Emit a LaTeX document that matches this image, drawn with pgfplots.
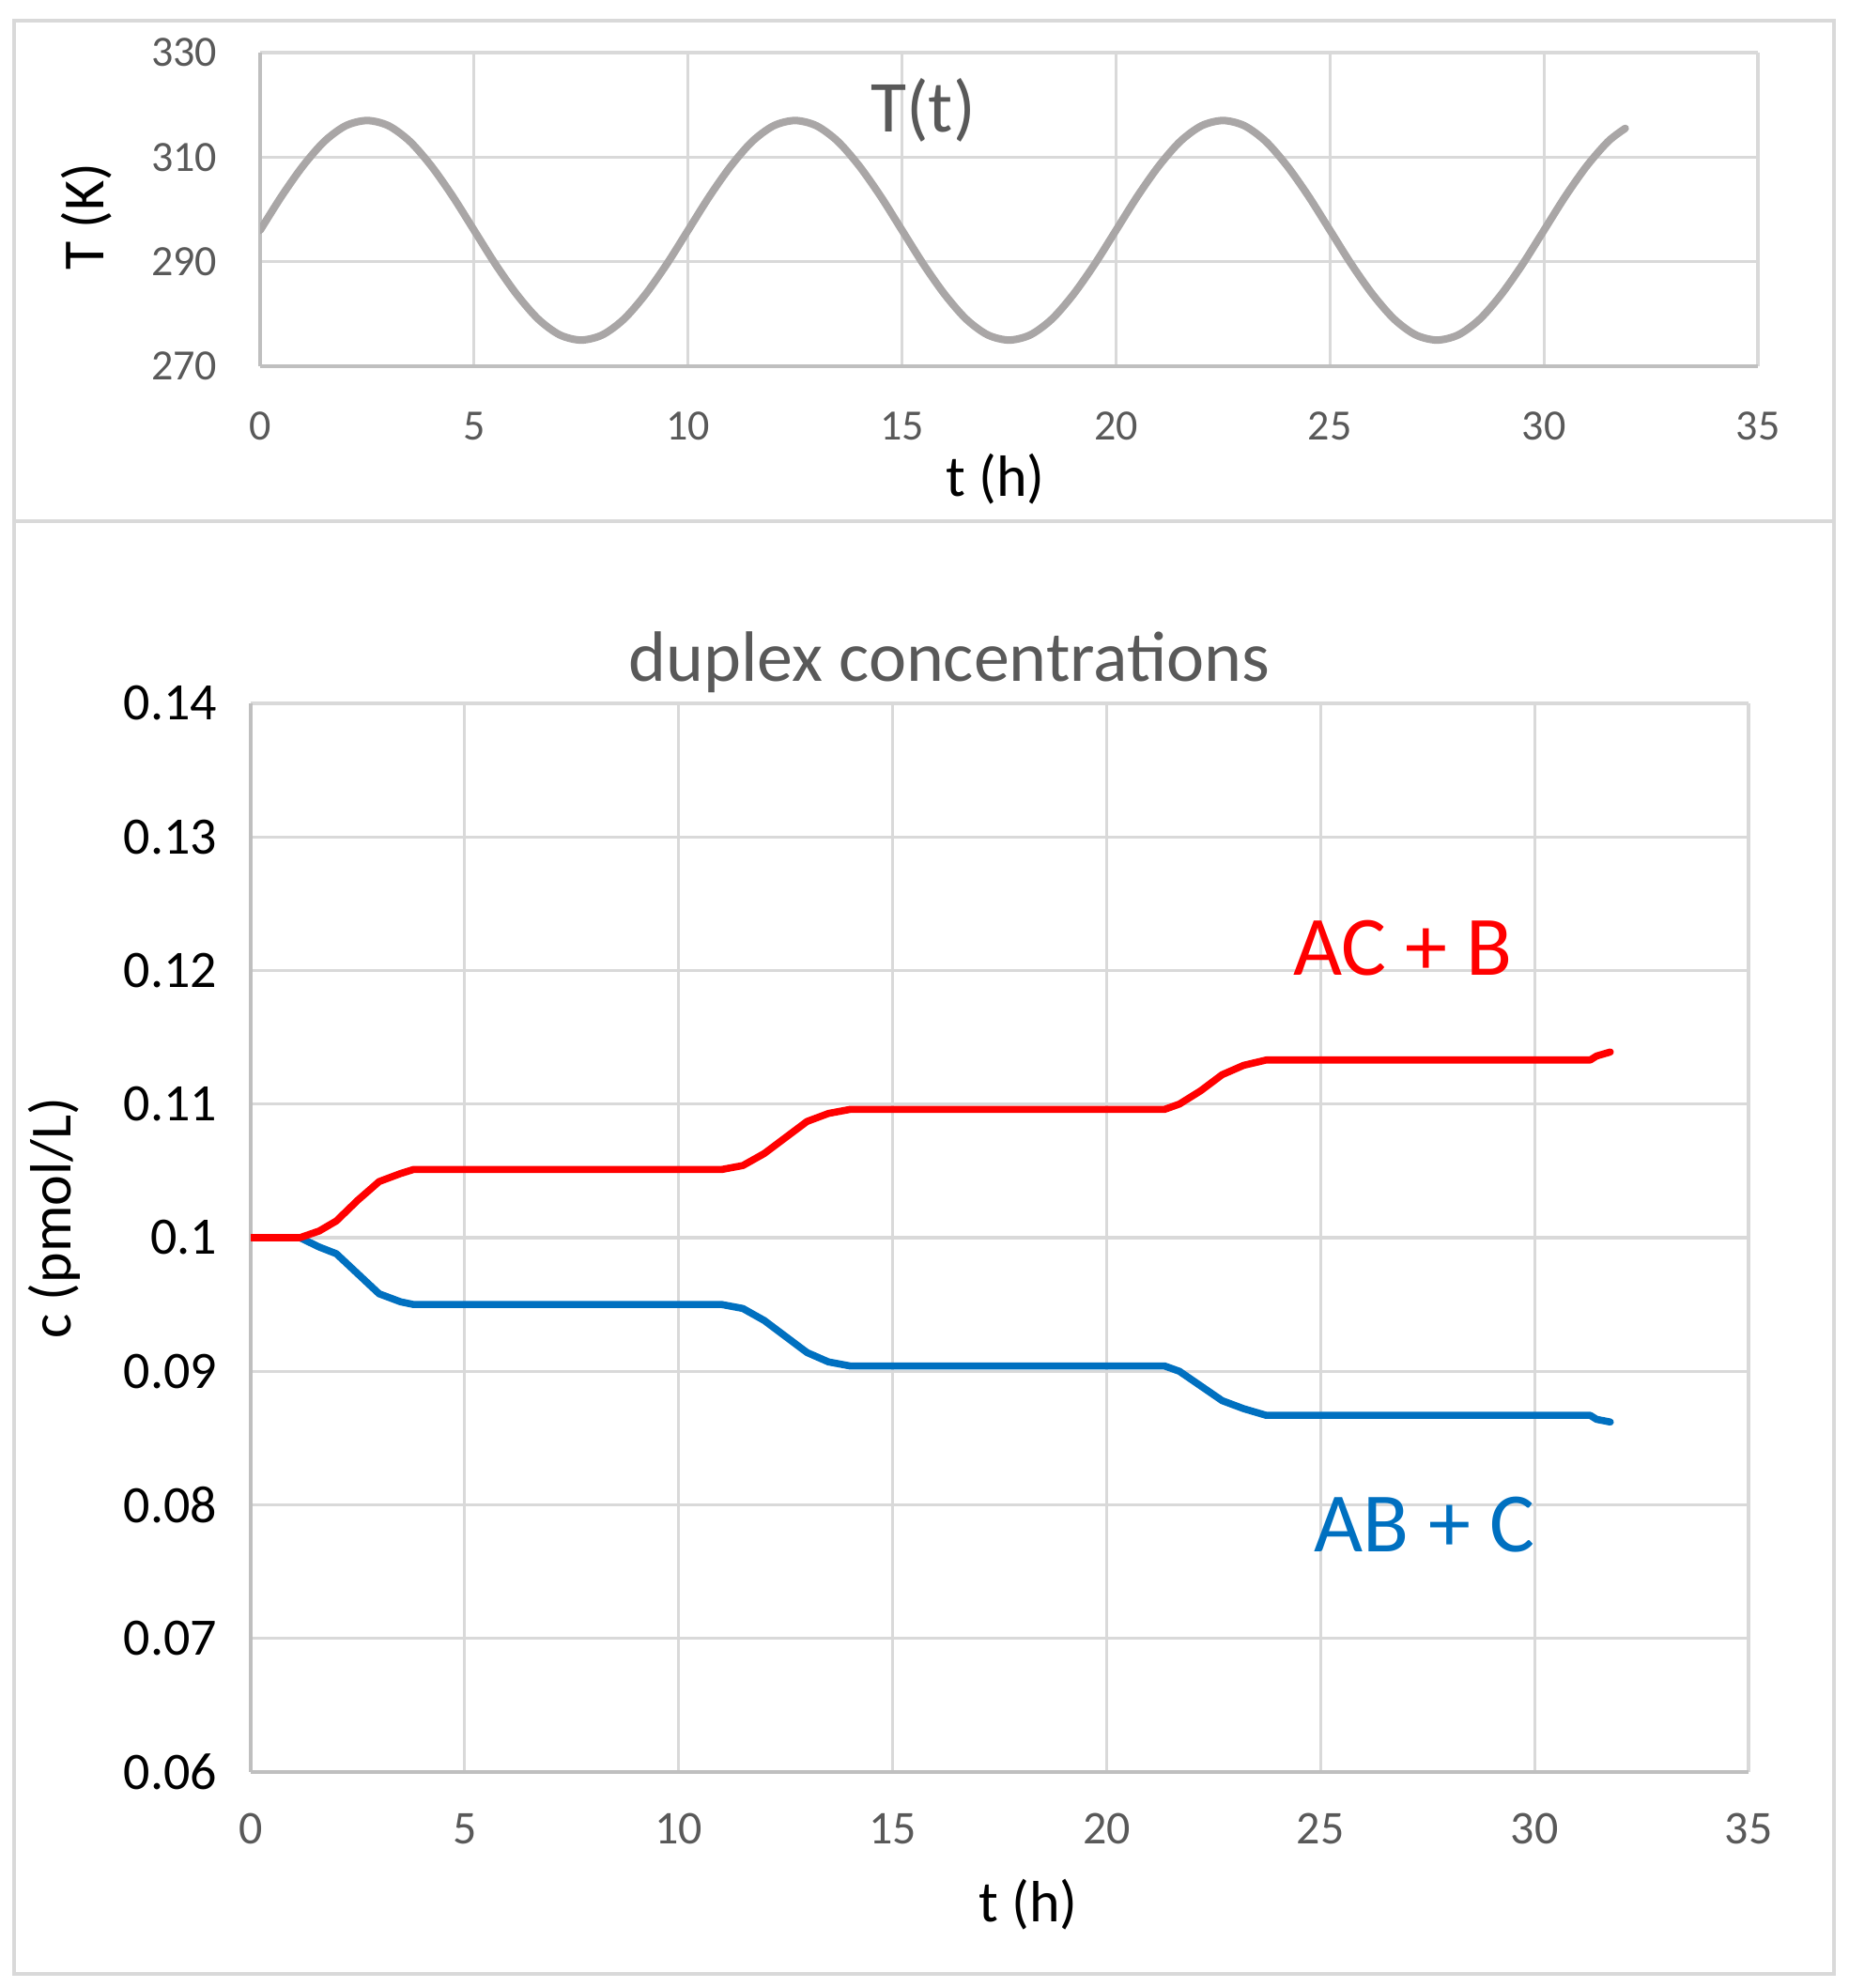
\documentclass[border=0pt]{standalone}
\usepackage{fontspec}
\setmainfont{Carlito}
\usepackage{pgfplots}
\pgfplotsset{compat=1.18}
\usepackage{pgfplotstable}

\definecolor{gridgray}{HTML}{D9D9D9}
\definecolor{axisgray}{HTML}{BFBFBF}
\definecolor{txtgray}{HTML}{595959}
\definecolor{curvegray}{HTML}{A9A6A6}
\definecolor{acred}{HTML}{FF0000}
\definecolor{abblue}{HTML}{0070C0}

% temperature profile T(t), K
\pgfplotstableread{
t T
0 296.0
0.5 302.5
1 308.3
1.5 313.0
2 316.0
2.5 317.0
3 316.0
3.5 313.0
4 308.3
4.5 302.5
5 296.0
5.5 289.5
6 283.7
6.5 279.0
7 276.0
7.5 275.0
8 276.0
8.5 279.0
9 283.7
9.5 289.5
10 296.0
10.5 302.5
11 308.3
11.5 313.0
12 316.0
12.5 317.0
13 316.0
13.5 313.0
14 308.3
14.5 302.5
15 296.0
15.5 289.5
16 283.7
16.5 279.0
17 276.0
17.5 275.0
18 276.0
18.5 279.0
19 283.7
19.5 289.5
20 296.0
20.5 302.5
21 308.3
21.5 313.0
22 316.0
22.5 317.0
23 316.0
23.5 313.0
24 308.3
24.5 302.5
25 296.0
25.5 289.5
26 283.7
26.5 279.0
27 276.0
27.5 275.0
28 276.0
28.5 279.0
29 283.7
29.5 289.5
30 296.0
30.5 302.5
31 308.3
31.5 313.0
31.9 315.5
}\temptable

% duplex AC + B
\pgfplotstableread{
t c
0 0.1000
1.15 0.1000
1.6 0.1005
2.0 0.10125
2.5 0.1028
3.0 0.1042
3.5 0.1048
3.8 0.1051
11.0 0.1051
11.5 0.1054
12.0 0.1063
12.5 0.1075
13.0 0.1087
13.5 0.1093
14.0 0.1096
21.35 0.1096
21.7 0.1100
22.2 0.1110
22.7 0.1122
23.2 0.1129
23.73 0.1133
31.3 0.1133
31.45 0.1136
31.77 0.1139
}\actable

% duplex AB + C
\pgfplotstableread{
t c
0 0.1000
1.15 0.1000
1.6 0.0993
2.0 0.0988
2.5 0.0973
3.0 0.0958
3.5 0.0952
3.8 0.0950
11.0 0.0950
11.5 0.0947
12.0 0.0938
12.5 0.0926
13.0 0.0914
13.5 0.0907
14.0 0.0904
21.35 0.0904
21.7 0.0900
22.2 0.0889
22.7 0.0878
23.2 0.0872
23.73 0.0867
31.3 0.0867
31.45 0.0864
31.77 0.0862
}\abtable

\pgfplotsset{
  excelstyle/.style={
    scale only axis,
    axis lines=left,
    axis line style={-, axisgray, line width=1.1pt},
    xmajorgrids, ymajorgrids,
    grid style={gridgray, line width=0.8pt},
    major tick length=0pt,
    xmin=0, xmax=35,
    xtick={0,5,...,35},
    /pgf/number format/assume math mode=true,
  }
}

\begin{document}
\begin{tikzpicture}
% page extent
\path (0,0) rectangle (492pt,529.25pt);
% panel frames
\draw[gridgray, line width=1pt] (3.75pt,390.5pt) rectangle (488.25pt,523.75pt);
\draw[gridgray, line width=1pt] (3.75pt,3.75pt) rectangle (488.25pt,390.5pt);

% temperature panel
\begin{axis}[excelstyle,
  at={(69.25pt,431.75pt)}, anchor=south west,
  width=398.75pt, height=83.5pt,
  ymin=270, ymax=330, ytick={270,290,310,330},
  xticklabel style={font=\fontsize{11.5}{12}\selectfont, text=txtgray, anchor=base, yshift=-19.75pt},
  yticklabel style={font=\fontsize{11.5}{12}\selectfont, text=txtgray, anchor=east, inner sep=0pt, xshift=-11.25pt},
]
\addplot[curvegray, line width=2pt, line cap=round, smooth] table[x=t, y=T] {\temptable};
\end{axis}

% concentration panel
\begin{axis}[excelstyle,
  at={(66.75pt,57.5pt)}, anchor=south west,
  width=398.75pt, height=284.5pt,
  ymin=0.06, ymax=0.14,
  ytick={0.06,0.07,0.08,0.09,0.10,0.11,0.12,0.13,0.14},
  yticklabels={0.06,0.07,0.08,0.09,0.1,0.11,0.12,0.13,0.14},
  xticklabel style={font=\fontsize{12.5}{13}\selectfont, text=txtgray, anchor=base, yshift=-19.25pt},
  yticklabel style={font=\fontsize{14}{15}\selectfont, text=black, anchor=east, inner sep=0pt, xshift=-8.75pt},
]
\addplot[abblue, line width=1.9pt, line cap=round, line join=round] table[x=t, y=c] {\abtable};
\addplot[acred, line width=1.9pt, line cap=round, line join=round] table[x=t, y=c] {\actable};
\end{axis}

% titles and labels
\node[text=txtgray, font=\fontsize{19.5}{20}\selectfont] at (245.75pt,500pt) {T(t)};
\node[font=\fontsize{15.5}{16}\selectfont] at (265pt,401.75pt) {t (h)};
\node[font=\fontsize{15.5}{16}\selectfont, rotate=90] at (23pt,471.5pt) {T (K)};
\node[text=txtgray, font=\fontsize{19}{20}\selectfont] at (252.75pt,353pt) {duplex concentrations};
\node[font=\fontsize{15.5}{16}\selectfont] at (273.75pt,22.25pt) {t (h)};
\node[font=\fontsize{15.5}{16}\selectfont, rotate=90] at (14.5pt,205pt) {c (pmol/L)};
\node[text=acred, font=\fontsize{22.5}{23}\selectfont] at (373.5pt,276.75pt) {AC + B};
\node[text=abblue, font=\fontsize{22.5}{23}\selectfont] at (379.25pt,123.25pt) {AB + C};
\end{tikzpicture}
\end{document}
